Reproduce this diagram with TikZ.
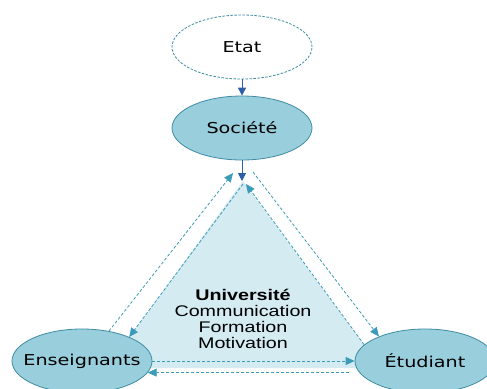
\documentclass[tikz,border=0pt]{standalone}
\usepackage{fontspec}
\setmainfont{Liberation Sans}
\newfontfamily\dvfont{DejaVu Sans}
\usetikzlibrary{shapes.geometric,arrows.meta}
\definecolor{ellfill}{HTML}{99CFDD}
\definecolor{elldraw}{HTML}{3E8BA2}
\definecolor{trifill}{HTML}{D3EBF1}
\definecolor{dashcol}{HTML}{3C9BB8}
\definecolor{solidcol}{HTML}{2B5EA9}
\newcommand{\lbl}[1]{\makebox[0pt]{\scalebox{1.28}[1]{\dvfont\fontsize{15}{18}\selectfont #1}}}
\tikzset{
  ell/.style={ellipse, minimum width=140pt, minimum height=64pt, inner sep=0pt, fill=ellfill, draw=elldraw, line width=0.8pt},
  dell/.style={ellipse, minimum width=140pt, minimum height=64pt, inner sep=0pt, fill=white, draw=elldraw, line width=0.8pt, dash pattern=on 2.5pt off 1.5pt},
  solidarr/.style={draw=solidcol, line width=1pt, -{Triangle[length=8pt,width=8pt]}},
  dasharr/.style={draw=dashcol, line width=0.8pt, dash pattern=on 3pt off 2pt, -{Triangle[length=9pt,width=8pt]}}
}
\begin{document}
\begin{tikzpicture}[x=1pt,y=-1pt]
\useasboundingbox (0,0) rectangle (487,388);
\fill[trifill] (243,181) -- (107,368) -- (381,368) -- cycle;
\node[dell] (etat) at (242,47) {\lbl{Etat}};
\node[ell] (soc) at (242,128) {\lbl{Société}};
\node[ell] (ens) at (82,361) {\lbl{Enseignants}};
\node[ell] (etu) at (425,361) {\lbl{Étudiant}};
\node (univ) at (243,321) {\scalebox{1.28}[1]{\fontsize{15.4}{15.7}\selectfont\renewcommand\arraystretch{1}\begin{tabular}{@{}c@{}}\textbf{Université}\\Communication\\Formation\\Motivation\end{tabular}}};
\coordinate (apex) at (242,181);
\coordinate (apexL) at (243,184);
\coordinate (apexR) at (246,184);
\coordinate (topL) at (233,173);
\coordinate (topR) at (253,172);
\draw[solidarr] (etat.south) -- (soc.north);
\draw[solidarr] (soc.south) -- (apex);
\draw[dasharr] (ens.48) -- (topL);
\draw[dasharr] (apexL) -- (ens.27);
\draw[dasharr] (topR) -- (etu.152);
\draw[dasharr] (etu.165) -- (apexR);
\draw[dasharr] (ens.east) -- (etu.west);
\draw[dasharr, shorten <=10pt] (etu.190) -- (ens.-10);
\end{tikzpicture}
\end{document}
